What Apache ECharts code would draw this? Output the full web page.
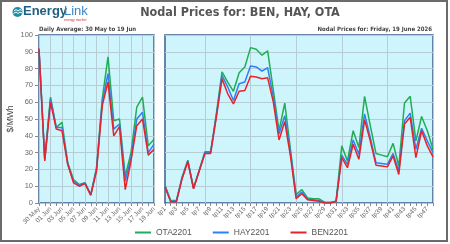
<!DOCTYPE html>
<html>
<head>
<meta charset="utf-8">
<script src="https://cdn.jsdelivr.net/npm/echarts@6/dist/echarts.min.js"></script>
<style>
html,body{margin:0;padding:0;background:#fff;}
#chart{width:450px;height:244px;}
</style>
</head>
<body>
<div id="chart"></div>
<script>
// daily averages, 30 May - 19 Jun
var days=['30 May','31 May','01 Jun','02 Jun','03 Jun','04 Jun','05 Jun','06 Jun','07 Jun','08 Jun','09 Jun','10 Jun','11 Jun','12 Jun','13 Jun','14 Jun','15 Jun','16 Jun','17 Jun','18 Jun','19 Jun'];
var otaDaily=[91,26,63,45,48,24,14,11,12,5,21,62,87,49,50,16,30,57,63,34,38];
var hayDaily=[91,26,62,45,45,23,13,10.5,12,5,20,60,77,44,47,13,27,50,54,30,35];
var benDaily=[92,25,60,44,43,23,12,10,11.5,4.5,19,58,72,40,45.5,8,25,46,50,28.5,32];

// trading periods, Friday 19 June
var periods=[];
for(var p=1;p<=48;p++){ periods.push('tp'+p); }
var otaTp=[10.5,1.5,1.5,15.5,25.5,9,19.5,30.5,30.5,53,78,72,66.5,77.5,81,92.5,91.5,88,90.5,67,43,59.5,32,5,8,3,2.5,2.5,0.5,0.5,1,34,25,43,33,63.5,46,29.5,28.5,27.5,35.5,22,59.5,63.5,37,51.5,43,32];
var hayTp=[10,1,1,15,25,8.8,19.2,30,30,52,76,69,61,71,72,81.5,81,78.5,80.5,63,41,52,30,3.5,6.5,2.3,2,1.5,0,0,0.8,28.5,23,37.5,29,53,39,24,23.5,23,29.5,19,49,53.5,32,44.5,37,30];
var benTp=[9.5,0.8,0.8,14.5,24.5,8.5,19,29.5,29.5,51,74,65,59,66.5,67,75.5,75,74,74.5,60,37.5,48.5,28,2.5,5.5,2,1.5,1,0,0,1,27,21,35,26,49.5,37,22.5,22,21.5,28,17,47,51,27,43,34,27.5];

var yTicks=[0,10,20,30,40,50,60,70,80,90,100];

var green='#1fae55', blue='#2f80f0', red='#e8222c';
var plotBg='#cdf5fb', plotBorder='#3b5d8f', gridCol='#b7cdd5';
var font='"DejaVu Sans Condensed", "Noto Sans", sans-serif';
var plain='"Liberation Sans", Arial, sans-serif';

var chart=echarts.init(document.getElementById('chart'));

function line(name,color,x,data){
    return {
        name:name,
        type:'line',
        xAxisIndex:x,
        yAxisIndex:x,
        data:data,
        symbol:'none',
        silent:true,
        lineStyle:{color:color,width:1.5},
        itemStyle:{color:color}
    };
}

var xLabel={rotate:45,fontSize:6.5,color:'#6a6a6a',fontFamily:plain,interval:1,margin:5};

var option={
    animation:false,
    backgroundColor:'#fff',
    textStyle:{fontFamily:font},
    title:[
        {text:'Nodal Prices for: BEN, HAY, OTA',left:240,top:6,padding:0,textAlign:'center',
            textStyle:{fontSize:12.5,fontWeight:'bold',color:'#555',fontFamily:font}},
        {text:'Daily Average: 30 May to 19 Jun',left:39,top:26,padding:0,
            textStyle:{fontSize:6,fontWeight:'bold',color:'#444',fontFamily:font}},
        {text:'Nodal Prices for: Friday, 19 June 2026',right:18,top:26,padding:0,
            textStyle:{fontSize:6,fontWeight:'bold',color:'#444',fontFamily:font}}
    ],
    legend:{
        bottom:2,
        left:130,
        itemWidth:16,
        itemHeight:2,
        itemGap:21,
        icon:'rect',
        textStyle:{fontSize:8.5,color:'#555',fontFamily:plain},
        data:['OTA2201','HAY2201','BEN2201']
    },
    grid:[
        {left:39,top:35,width:115,height:168,show:true,backgroundColor:plotBg,borderColor:plotBorder,borderWidth:1.5},
        {left:165,top:35,width:268,height:168,show:true,backgroundColor:plotBg,borderColor:plotBorder,borderWidth:1.5}
    ],
    xAxis:[
        {type:'category',gridIndex:0,data:days,boundaryGap:false,
            axisLine:{show:false},
            axisTick:{show:true,interval:0,length:3,lineStyle:{color:'#888'}},
            axisLabel:xLabel,
            splitLine:{show:true,interval:1,lineStyle:{color:gridCol,width:1}}},
        {type:'category',gridIndex:1,data:periods,boundaryGap:false,
            axisLine:{show:false},
            axisTick:{show:true,interval:0,length:3,lineStyle:{color:'#888'}},
            axisLabel:xLabel,
            splitLine:{show:true,interval:function(i){return i%8===7;},lineStyle:{color:gridCol,width:1}}}
    ],
    yAxis:[
        {type:'value',gridIndex:0,min:yTicks[0],max:yTicks[yTicks.length-1],interval:10,
            name:'$/MWh',nameLocation:'middle',nameGap:24,nameRotate:90,
            nameTextStyle:{fontSize:8.5,color:'#444',fontFamily:plain},
            axisLine:{show:false},
            axisTick:{show:true,length:4,lineStyle:{color:'#888'}},
            axisLabel:{fontSize:7.5,color:'#6a6a6a',fontFamily:plain,margin:6},
            splitLine:{lineStyle:{color:gridCol,width:1}}},
        {type:'value',gridIndex:1,min:yTicks[0],max:yTicks[yTicks.length-1],interval:10,
            axisLine:{show:false},axisTick:{show:false},axisLabel:{show:false},
            splitLine:{lineStyle:{color:gridCol,width:1}}}
    ],
    graphic:[
        {type:'rect',shape:{x:1,y:1,width:446,height:240},style:{fill:'none',stroke:'#6b6b6b',lineWidth:2},silent:true},
        {type:'circle',shape:{cx:17.5,cy:12,r:5},style:{fill:'#1b8ea8'},silent:true},
        {type:'polyline',shape:{points:[[14,11],[16,9.5],[18,11],[20,9.5],[21.5,10.5]]},style:{stroke:'#fff',lineWidth:1,fill:'none'},silent:true},
        {type:'polyline',shape:{points:[[13.5,13.5],[16,12],[18,13.5],[20,12],[22,13]]},style:{stroke:'#fff',lineWidth:1,fill:'none'},silent:true},
        {type:'text',left:23,top:5,style:{text:'Energy',fontSize:13,fontFamily:plain,fill:'#1f5f80',fontWeight:'bold'},silent:true},
        {type:'text',left:64,top:5,style:{text:'Link',fontSize:13,fontFamily:plain,fill:'#3b86c4'},silent:true},
        {type:'text',left:64,top:18,style:{text:'energy market',fontSize:3.5,fontFamily:plain,fill:'#d0303a'},silent:true}
    ],
    series:[
        line('OTA2201',green,0,otaDaily),
        line('HAY2201',blue,0,hayDaily),
        line('BEN2201',red,0,benDaily),
        line('OTA2201',green,1,otaTp),
        line('HAY2201',blue,1,hayTp),
        line('BEN2201',red,1,benTp)
    ]
};
chart.setOption(option);
window.onresize=chart.resize;
</script>
</body>
</html>
